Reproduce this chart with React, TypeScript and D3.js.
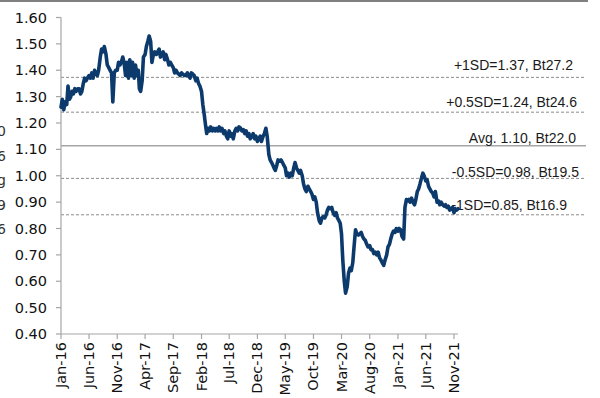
import React from "react";
import * as d3 from "d3";

// Quarter-month readings (days 1, 8, 16, 23 of each month)
const v2016 = [1.26,1.29,1.25,1.28, 1.27,1.34,1.29,1.30, 1.32,1.31,1.33,1.32, 1.33,1.33,1.31,1.32, 1.35,1.37,1.36,1.37, 1.38,1.37,1.39,1.37, 1.40,1.39,1.38,1.40, 1.45,1.48,1.47,1.49, 1.46,1.42,1.41,1.40, 1.39,1.28,1.39,1.40, 1.40,1.43,1.42,1.43, 1.45,1.43,1.38,1.43];
const v2017 = [1.37,1.44,1.38,1.43, 1.37,1.42,1.38,1.40, 1.33,1.32,1.36,1.45, 1.46,1.49,1.51,1.53, 1.51,1.43,1.46,1.47, 1.46,1.47,1.48,1.45, 1.46,1.47,1.44,1.46, 1.44,1.42,1.43,1.42, 1.41,1.39,1.40,1.39, 1.385,1.38,1.39,1.385, 1.38,1.38,1.39,1.38, 1.37,1.39,1.385,1.38];
const v2018 = [1.36,1.37,1.35,1.34, 1.32,1.27,1.23,1.19, 1.16,1.18,1.17,1.185, 1.17,1.18,1.17,1.18, 1.17,1.185,1.17,1.18, 1.16,1.17,1.15,1.14, 1.17,1.15,1.16,1.14, 1.17,1.18,1.17,1.185, 1.18,1.17,1.175,1.16, 1.17,1.15,1.16,1.14, 1.15,1.16,1.14,1.15, 1.13,1.14,1.15,1.13];
const v2019 = [1.15,1.16,1.18,1.15, 1.08,1.06,1.05,1.04, 1.03,1.02,1.04,1.06, 1.055,1.06,1.05,1.04, 1.03,1.00,1.01,0.995, 1.01,1.00,1.03,1.05, 1.03,1.02,1.01,1.02, 1.00,0.97,0.95,0.94, 0.96,0.95,0.94,0.93, 0.91,0.92,0.90,0.86, 0.83,0.82,0.84,0.845, 0.84,0.85,0.87,0.88];
const v2020 = [0.875,0.88,0.86,0.85, 0.86,0.84,0.83,0.82, 0.78,0.68,0.60,0.555, 0.58,0.63,0.65,0.64, 0.67,0.73,0.795,0.78, 0.775,0.78,0.785,0.77, 0.76,0.755,0.74,0.73, 0.735,0.72,0.72,0.705, 0.71,0.70,0.71,0.69, 0.68,0.67,0.66,0.68, 0.70,0.73,0.74,0.76, 0.78,0.79,0.785,0.80];
const v2021 = [0.79,0.80,0.795,0.77, 0.76,0.88,0.91,0.905, 0.91,0.90,0.915,0.90, 0.89,0.91,0.94,0.95, 0.97,0.99,1.01,1.00, 0.98,0.985,0.96,0.95, 0.94,0.935,0.92,0.94, 0.90,0.905,0.89,0.90, 0.89,0.885,0.89,0.88, 0.885,0.87,0.875,0.88, 0.86,0.875,0.87,0.875];

const yearStarts = [2016, 2017, 2018, 2019, 2020, 2021];
const yearValues = [v2016, v2017, v2018, v2019, v2020, v2021];
const weekDays = [1, 8, 16, 23];

const xTickLabels = ["Jan-16","Jun-16","Nov-16","Apr-17","Sep-17","Feb-18","Jul-18","Dec-18","May-19","Oct-19","Mar-20","Aug-20","Jan-21","Jun-21","Nov-21"];
const yTicks = [0.4,0.5,0.6,0.7,0.8,0.9,1.0,1.1,1.2,1.3,1.4,1.5,1.6];

const refLevels = [1.373, 1.241, 1.114, 0.99, 0.852];
const refLabels = ["+1SD=1.37, Bt27.2", "+0.5SD=1.24, Bt24.6", "Avg. 1.10, Bt22.0", "-0.5SD=0.98, Bt19.5", "-1SD=0.85, Bt16.9"];
const refSolid = [false, false, true, false, false];

const leftFragments = ["0", "6", "g", "9", "6"];

type Pt = { date: Date; value: number };

const data: Pt[] = [];
yearValues.forEach((vals, yi) => {
  vals.forEach((v, i) => {
    data.push({ date: new Date(yearStarts[yi], Math.floor(i / 4), weekDays[i % 4]), value: v });
  });
});

const parseTick = d3.timeParse("%b-%y");

export default function App() {
  const W = 600, H = 398;
  const x = d3.scaleTime()
    .domain([new Date(2016, 0, 1), new Date(2021, 10, 1)])
    .range([61, 454]);
  const y = d3.scaleLinear().domain([0.4, 1.6]).range([334, 17.5]);
  const line = d3.line<Pt>().x(d => x(d.date)).y(d => y(d.value));

  const labelX = [573, 577, 576, 579, 567];
  const labelY = [65, 101.5, 137.5, 171.5, 204.5];

  const tickFont = "'DejaVu Sans', Verdana, sans-serif";
  const labelFont = "'Liberation Sans', Arial, sans-serif";

  return (
    <svg width={W} height={H} style={{ position: "absolute", left: 0, top: 0, background: "#fff" }}>
      <rect x={0} y={0} width={W} height={H} fill="#fff" />
      <line x1={0} x2={588} y1={1} y2={1} stroke="#808080" strokeWidth={2} />
      {leftFragments.map((t, i) => (
        <text key={"f" + i} x={-3} y={136 + i * 24.5} fontFamily={tickFont} fontSize={14} fill="#333">{t}</text>
      ))}
      {refLevels.map((v, i) => (
        <line key={"r" + i} x1={61} x2={586} y1={y(v)} y2={y(v)}
          stroke={refSolid[i] ? "#a6a6a6" : "#8c8c8c"}
          strokeWidth={refSolid[i] ? 1.6 : 1}
          strokeDasharray={refSolid[i] ? undefined : "3,2"} />
      ))}
      {refLabels.map((t, i) => (
        <text key={"l" + i} x={labelX[i]} y={labelY[i]} textAnchor="end" dominantBaseline="central"
          fontFamily={labelFont} fontSize={14} fill="#1a1a1a">{t}</text>
      ))}
      <line x1={61} x2={61} y1={17.5} y2={334} stroke="#a6a6a6" strokeWidth={1.2} />
      <line x1={61} x2={458} y1={334} y2={334} stroke="#a6a6a6" strokeWidth={1.2} />
      {yTicks.map((t, i) => (
        <g key={"y" + i}>
          <line x1={56} x2={61} y1={y(t)} y2={y(t)} stroke="#a6a6a6" strokeWidth={1.2} />
          <text x={47} y={y(t)} textAnchor="end" dominantBaseline="central" fontFamily={tickFont} fontSize={14.5} fill="#111">{t.toFixed(2)}</text>
        </g>
      ))}
      {xTickLabels.map((lab, i) => {
        const d = parseTick(lab) as Date;
        const px = x(d);
        return (
          <g key={"x" + i}>
            <line x1={px} x2={px} y1={334} y2={339} stroke="#a6a6a6" strokeWidth={1.2} />
            <text transform={`translate(${px},342) rotate(-90)`} textAnchor="end" dominantBaseline="central"
              fontFamily={tickFont} fontSize={14.5} fill="#111">{lab}</text>
          </g>
        );
      })}
      <path d={line(data) || ""} fill="none" stroke="#0c3a6c" strokeWidth={3.6} strokeLinejoin="round" strokeLinecap="round" />
    </svg>
  );
}
